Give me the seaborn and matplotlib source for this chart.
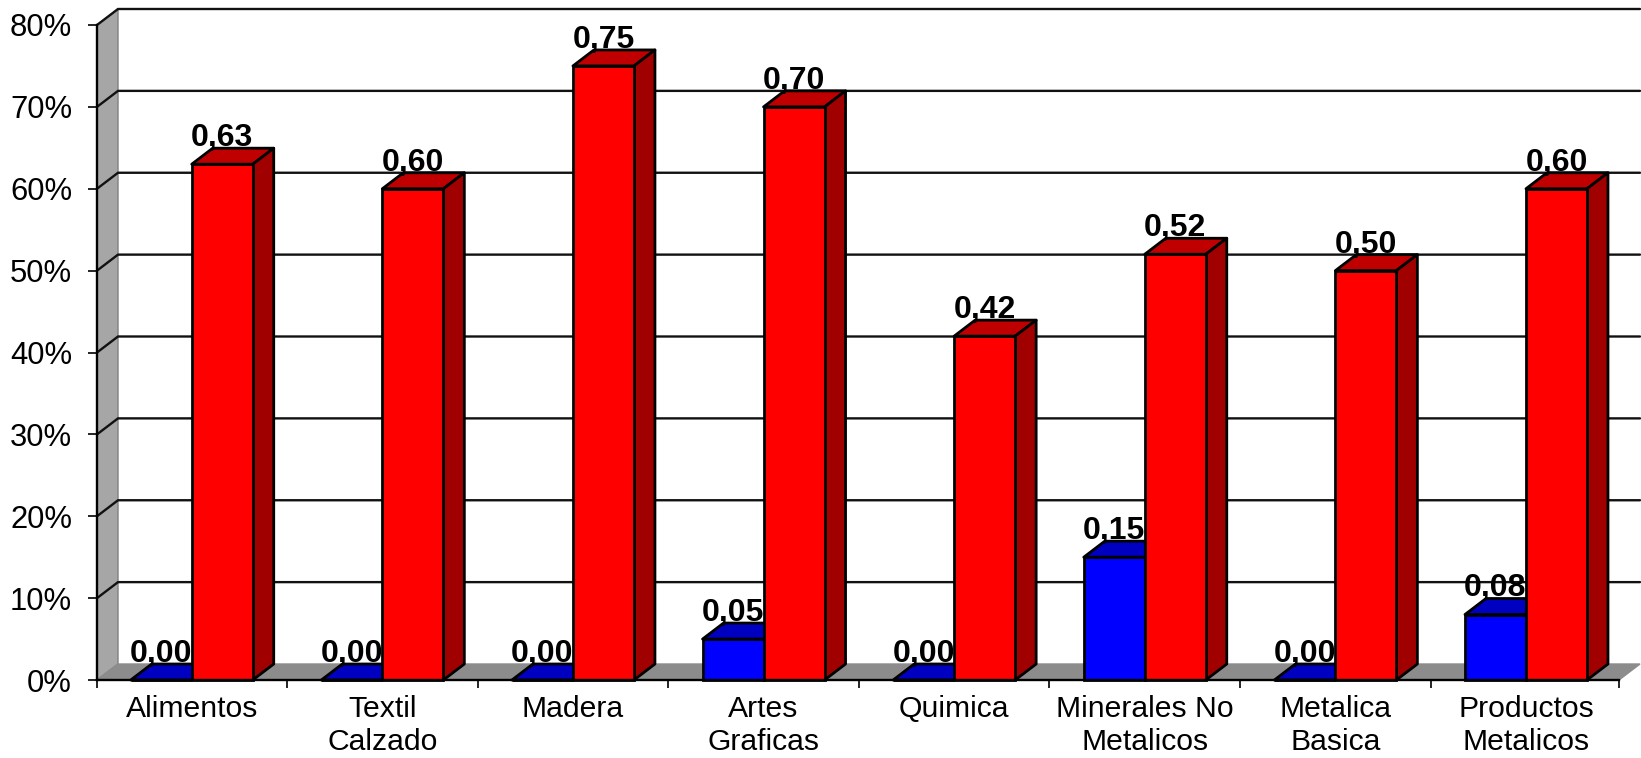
import pandas as pd
import seaborn as sns
import matplotlib.pyplot as plt
from matplotlib.patches import Polygon

# Data
sectores = ['Alimentos', 'Textil\nCalzado', 'Madera', 'Artes\nGraficas', 'Quimica',
            'Minerales No\nMetalicos', 'Metalica\nBasica', 'Productos\nMetalicos']
serie_azul = [0.00, 0.00, 0.00, 0.05, 0.00, 0.15, 0.00, 0.08]
serie_roja = [0.63, 0.60, 0.75, 0.70, 0.42, 0.52, 0.50, 0.60]
ticks_y = [0, 0.1, 0.2, 0.3, 0.4, 0.5, 0.6, 0.7, 0.8]

df = pd.DataFrame({
    'sector': sectores * 2,
    'serie': ['azul'] * len(sectores) + ['roja'] * len(sectores),
    'valor': serie_azul + serie_roja,
})

sns.set_theme(style='white')
plt.rcParams['font.family'] = ['Liberation Sans', 'DejaVu Sans']

fig = plt.figure(figsize=(16.41, 7.58), dpi=100)
ax = fig.add_axes([97 / 1641, 78 / 758, 1522 / 1641, 655 / 758])

sns.barplot(data=df, x='sector', y='valor', hue='serie', order=sectores,
            palette={'azul': '#0000FF', 'roja': '#FF0000'}, saturation=1, width=0.64, gap=0,
            edgecolor='black', linewidth=2.0, legend=False, ax=ax)

x0, x1 = -0.497, 7.488
ax.set_xlim(x0, x1)
ax.set_ylim(0, 0.8)

# 3D depth of the old spreadsheet look, 21 px right and 16 px up
dx = 21 * (x1 - x0) / 1522
dy = 16 * 0.8 / 655

# side wall and floor
ax.add_patch(Polygon([(x0, 0), (x0 + dx, dy), (x0 + dx, 0.8 + dy), (x0, 0.8)], closed=True,
                     facecolor='#A6A6A6', edgecolor='#808080', lw=1, zorder=0.5, clip_on=False))
ax.add_patch(Polygon([(x0, 0), (x0 + dx, dy), (x1 + dx, dy), (x1, 0)], closed=True,
                     facecolor='#8C8C8C', edgecolor='#8C8C8C', lw=1, zorder=0.5, clip_on=False))

# grid on the back wall, with the slanted bit on the side wall
for t in ticks_y[1:]:
    ax.plot([x0, x0 + dx, x1 + dx], [t, t + dy, t + dy], color='#111111', lw=1.7,
            zorder=1, clip_on=False, solid_joinstyle='miter')

# faces of the bars
colores = {'azul': ('#0000C0', '#0000A0'), 'roja': ('#C00000', '#A00000')}
n = len(sectores)
for i, bar in enumerate(ax.patches):
    if i >= 2 * n:
        break
    xa, xb = bar.get_x(), bar.get_x() + bar.get_width()
    h = bar.get_height()
    tope, lado = colores['azul'] if i < n else colores['roja']
    bar.set_zorder(4)
    bar.set_clip_on(False)
    ax.add_patch(Polygon([(xa, h), (xa + dx, h + dy), (xb + dx, h + dy), (xb, h)], closed=True,
                         facecolor=tope, edgecolor='black', lw=2.0, zorder=3, clip_on=False,
                         joinstyle='round'))
    ax.add_patch(Polygon([(xb, 0), (xb + dx, dy), (xb + dx, h + dy), (xb, h)], closed=True,
                         facecolor=lado, edgecolor='black', lw=2.0, zorder=3, clip_on=False,
                         joinstyle='round'))
    ax.annotate(f'{h:.2f}'.replace('.', ','), (bar.get_x() + bar.get_width() / 2, h),
                xytext=(0, 13), textcoords='offset points', ha='center', va='baseline',
                fontsize=23, fontweight='bold', color='black', zorder=6, annotation_clip=False)

# axis
ax.set_xlabel('')
ax.set_ylabel('')
ax.set_yticks(ticks_y)
ax.set_yticklabels([f'{int(round(t * 100))}%' for t in ticks_y])
ax.set_xticks(range(n))
ax.set_xticklabels(sectores, linespacing=1.2)
ax.set_xticks([i - 0.5 for i in range(1, n)] + [x0, x1], minor=True)
ax.tick_params(axis='x', which='major', length=0, pad=11, labelsize=21.7, colors='black')
ax.tick_params(axis='x', which='minor', length=6, width=1.2, color='black', bottom=True)
ax.tick_params(axis='y', length=6.5, width=1.2, pad=11.5, labelsize=22.3, colors='black', left=True)

sns.despine(ax=ax, top=True, right=True)
for lado_eje in ['left', 'bottom']:
    ax.spines[lado_eje].set_color('black')
    ax.spines[lado_eje].set_linewidth(1.7)
    ax.spines[lado_eje].set_zorder(5)

fig.savefig('out.png', dpi=100)
